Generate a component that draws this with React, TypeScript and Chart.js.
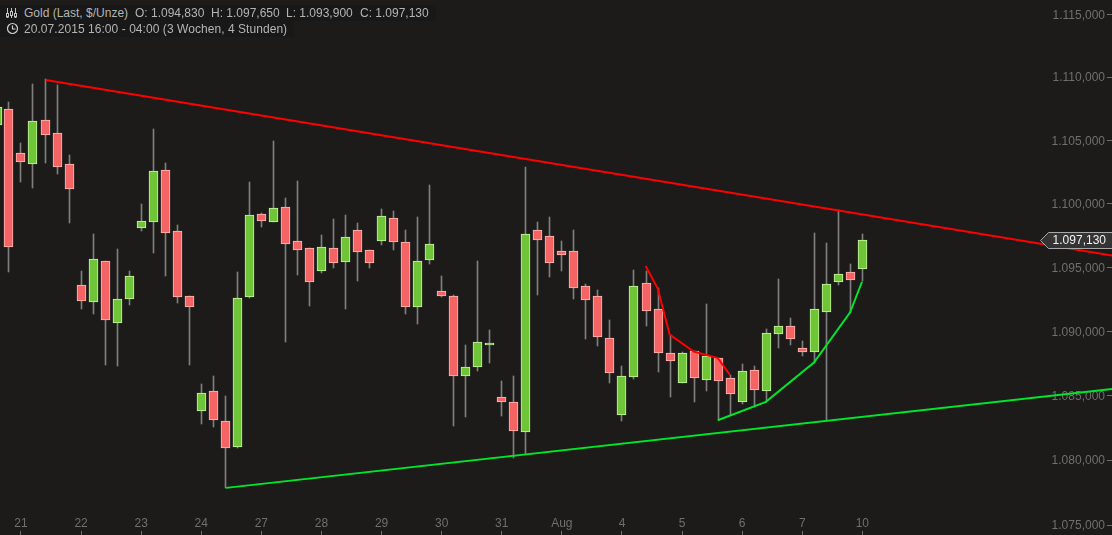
import React, { useEffect, useRef } from "react";
import { Chart, registerables } from "chart.js";

Chart.register(...registerables);

// candle position (0 = first whole candle, -0.95 = the one cut off at the left edge)
const candleIndex = [-0.95,0,1,2,3,4,5,6,7,8,9,10,11,12,13,14,15,16,17,18,19,20,21,22,23,24,25,26,27,28,29,30,31,32,33,34,35,36,37,38,39,40,41,42,43,44,45,46,47,48,49,50,51,52,53,54,55,56,57,58,59,60,61,62,63,64,65,66,67,68,69,70,71];
const opens = [1106.21,1107.47,1103.99,1103.12,1106.60,1105.57,1103.12,1093.62,1092.29,1095.50,1090.65,1092.52,1098.09,1098.56,1102.65,1097.85,1092.76,1083.81,1085.36,1083.03,1081.02,1092.68,1099.19,1098.56,1099.74,1097.06,1096.52,1094.71,1096.52,1095.42,1097.93,1096.36,1097.06,1098.87,1096.99,1091.90,1095.58,1093.15,1092.76,1086.53,1087.22,1088.94,1084.89,1084.51,1082.18,1097.93,1097.46,1096.28,1096.28,1093.54,1092.76,1089.48,1083.50,1086.45,1093.78,1091.74,1088.31,1085.98,1088.47,1086.21,1087.92,1086.37,1084.51,1086.99,1085.36,1089.79,1090.42,1088.70,1088.39,1091.51,1093.85,1094.64,1094.83];
const highs = [1107.63,1108.03,1104.78,1109.45,1109.85,1109.37,1103.83,1094.71,1097.61,1095.50,1096.44,1094.71,1099.97,1105.89,1103.20,1098.32,1092.76,1085.90,1086.53,1084.97,1094.63,1101.70,1099.27,1104.94,1100.44,1101.78,1096.52,1097.54,1098.79,1099.11,1098.48,1096.36,1099.58,1099.42,1097.93,1098.95,1101.47,1094.32,1092.84,1088.94,1095.50,1090.11,1086.14,1086.53,1102.89,1098.56,1098.95,1097.07,1097.93,1093.70,1093.23,1090.88,1087.30,1094.79,1094.71,1093.38,1089.72,1088.39,1088.47,1092.13,1087.92,1086.60,1087.46,1087.30,1090.18,1094.09,1091.04,1089.25,1097.69,1096.91,1099.50,1095.26,1097.65];
const lows = [1106.21,1094.63,1101.70,1101.23,1103.20,1102.33,1098.48,1091.74,1091.35,1087.38,1087.30,1092.06,1097.85,1096.12,1094.32,1092.21,1087.38,1082.80,1082.57,1077.86,1080.95,1092.60,1098.16,1098.56,1089.17,1094.40,1091.98,1094.56,1094.95,1091.74,1093.93,1094.95,1096.75,1096.36,1091.35,1090.57,1095.26,1092.68,1082.65,1083.34,1086.91,1087.54,1083.42,1080.17,1080.48,1092.84,1094.24,1094.71,1092.52,1089.40,1088.86,1085.98,1083.03,1086.29,1090.42,1086.84,1084.89,1085.98,1084.51,1085.36,1083.11,1083.50,1084.35,1084.12,1084.51,1088.70,1088.94,1088.08,1087.54,1083.11,1093.62,1091.43,1093.90];
const closes = [1107.63,1096.59,1103.28,1106.52,1105.41,1102.89,1101.15,1092.37,1095.65,1090.88,1092.52,1094.32,1098.64,1102.57,1097.69,1092.68,1091.90,1085.20,1083.11,1080.95,1092.60,1099.11,1098.64,1099.66,1096.83,1096.36,1093.85,1096.59,1095.34,1097.38,1096.20,1095.34,1099.03,1096.99,1091.90,1095.50,1096.83,1092.76,1086.53,1087.22,1089.17,1089.09,1084.51,1082.26,1097.61,1097.14,1095.34,1095.97,1093.38,1092.45,1089.56,1086.76,1086.53,1093.54,1091.59,1088.31,1087.69,1088.31,1086.37,1088.08,1086.14,1085.13,1086.91,1085.44,1089.87,1090.42,1089.40,1088.39,1091.74,1093.70,1094.48,1094.01,1097.13];

const redTrendX = [3.06, 91.77];
const redTrendY = [1109.77, 1095.92];
const greenTrendX = [18.05, 91.77];
const greenTrendY = [1077.86, 1085.52];
const redCurveX = [52.97, 53.97, 54.97, 56.97, 58.97, 59.97];
const redCurveY = [1095.11, 1093.36, 1089.74, 1088.42, 1087.92, 1086.63];
const greenCurveX = [58.97, 62.97, 66.97, 69.97, 70.97];
const greenCurveY = [1083.09, 1084.51, 1087.56, 1091.46, 1093.87];

const xTickIndex = [1, 6, 11, 16, 21, 26, 31, 36, 41, 46, 51, 56, 61, 66, 71];
const xTickLabels = ["21", "22", "23", "24", "27", "28", "29", "30", "31", "Aug", "4", "5", "6", "7", "10"];
const yTickValues = [1075, 1080, 1085, 1090, 1095, 1100, 1105, 1110, 1115];
const lastPrice = 1097.13;

const FONT = '"Liberation Sans", Arial, sans-serif';
const BG = "#1c1b1a";

const de = (v: number) =>
  v.toLocaleString("de-DE", { minimumFractionDigits: 3, maximumFractionDigits: 3 });

const pts = (xs: number[], ys: number[]) => xs.map((x, i) => ({ x, y: ys[i] }));

const lineSet = (xs: number[], ys: number[], color: string) => ({
  type: "line" as const,
  data: pts(xs, ys),
  borderColor: color,
  borderWidth: 2,
  pointRadius: 0,
  tension: 0,
  fill: false,
  clip: false as any,
  order: 1,
});

const snapBars = {
  id: "snapBars",
  beforeDatasetsDraw(chart: any) {
    chart.getSortedVisibleDatasetMetas().forEach((meta: any) => {
      if (meta.type !== "bar") return;
      meta.data.forEach((el: any) => {
        el.x = Math.floor(el.x) + 0.5;
        el.y = Math.round(el.y);
        el.base = Math.round(el.base);
      });
    });
  },
};

const priceTag = {
  id: "priceTag",
  afterDraw(chart: any) {
    const { ctx } = chart;
    const y = Math.round(chart.scales.y.getPixelForValue(lastPrice)) + 0.5;
    ctx.save();
    ctx.beginPath();
    ctx.moveTo(1040.5, y);
    ctx.lineTo(1048.5, y - 8);
    ctx.lineTo(1113, y - 8);
    ctx.lineTo(1113, y + 8);
    ctx.lineTo(1048.5, y + 8);
    ctx.closePath();
    ctx.fillStyle = "#343434";
    ctx.fill();
    ctx.strokeStyle = "#a8a8a8";
    ctx.lineWidth = 1;
    ctx.stroke();
    ctx.fillStyle = "#f2f2f2";
    ctx.font = `12px ${FONT}`;
    ctx.textAlign = "right";
    ctx.textBaseline = "middle";
    ctx.fillText(de(lastPrice), 1106, y + 0.5);
    ctx.restore();
  },
};

const headerRow: React.CSSProperties = {
  position: "absolute",
  background: "#181818",
  left: 0,
};
const headerText: React.CSSProperties = {
  position: "absolute",
  font: `12px ${FONT}`,
  color: "#b4b4b4",
  whiteSpace: "pre",
  lineHeight: "16px",
};

export default function App() {
  const ref = useRef<HTMLCanvasElement>(null);

  useEffect(() => {
    const up = closes.map((c, i) => c >= opens[i]);
    const chart = new Chart(ref.current as HTMLCanvasElement, {
      type: "bar",
      data: {
        datasets: [
          lineSet(redTrendX, redTrendY, "#ff0000"),
          lineSet(greenTrendX, greenTrendY, "#00e62b"),
          lineSet(redCurveX, redCurveY, "#ff0000"),
          lineSet(greenCurveX, greenCurveY, "#00e62b"),
          {
            type: "bar" as const,
            data: candleIndex.map((x, i) => ({ x, y: [Math.min(opens[i], closes[i]), Math.max(opens[i], closes[i])] })),
            backgroundColor: up.map((u) => (u ? "#6fc437" : "#f56464")),
            borderColor: up.map((u) => (u ? "#c8f7a2" : "#ffb8b4")),
            borderWidth: 1,
            borderSkipped: false,
            barThickness: 9,
            grouped: false,
            order: 2,
          },
          {
            type: "bar" as const,
            data: candleIndex.map((x, i) => ({ x, y: [lows[i], highs[i]] })),
            backgroundColor: "#7e7e7e",
            borderWidth: 0,
            barThickness: 1,
            grouped: false,
            order: 3,
          },
        ] as any,
      },
      options: {
        animation: false,
        responsive: false,
        layout: { padding: 0 },
        plugins: { legend: { display: false }, tooltip: { enabled: false } },
        events: [],
        scales: {
          x: {
            type: "linear",
            position: "bottom",
            offset: false,
            min: -0.7446,
            max: 91.352,
            grid: { offset: false, drawOnChartArea: false, tickLength: 4, tickColor: "#6f6f6f", tickWidth: 1 },
            border: { display: false },
            afterFit(s: any) { s.height = 4; s.paddingLeft = 0; s.paddingRight = 0; s.paddingTop = 0; s.paddingBottom = 0; },
            afterBuildTicks(s: any) { s.ticks = xTickIndex.map((value) => ({ value })); },
            ticks: {
              mirror: true,
              padding: 0,
              autoSkip: false,
              maxRotation: 0,
              color: "#6f6f6f",
              font: { family: FONT, size: 12 },
              callback: (v: any) => xTickLabels[xTickIndex.indexOf(Number(v))] ?? "",
            },
          },
          y: {
            type: "logarithmic",
            position: "right",
            min: 1074.54,
            max: 1116.14,
            grid: { drawOnChartArea: false, tickLength: 5, tickColor: "#6f6f6f", tickWidth: 1 },
            border: { display: false },
            afterFit(s: any) { s.width = 5; s.paddingLeft = 0; s.paddingRight = 0; s.paddingTop = 0; s.paddingBottom = 0; },
            afterBuildTicks(s: any) { s.ticks = yTickValues.map((value) => ({ value })); },
            ticks: {
              mirror: true,
              padding: -2,
              labelOffset: 1,
              autoSkip: false,
              color: "#6f6f6f",
              font: { family: FONT, size: 12 },
              callback: (v: any) => de(Number(v)),
            },
          },
        } as any,
      },
      plugins: [snapBars, priceTag],
    });
    return () => chart.destroy();
  }, []);

  return (
    <div style={{ position: "fixed", left: 0, top: 0, width: 1112, height: 535, background: BG, overflow: "hidden" }}>
      <canvas ref={ref} width={1112} height={535} style={{ display: "block", width: 1112, height: 535 }} />
      <div style={{ ...headerRow, top: 5, height: 16, width: 436 }} />
      <div style={{ ...headerRow, top: 21, height: 16, width: 294 }} />
      <svg width="14" height="14" style={{ position: "absolute", left: 5, top: 6 }} viewBox="0 0 14 14" fill="none" stroke="#c4c4c4">
        <path d="M2.5 2v10M6.5 2v10M10.5 2v10" />
        <rect x="1.5" y="7.5" width="2" height="3.5" fill="#181818" />
        <rect x="5.5" y="5.5" width="2" height="4" fill="#181818" />
        <rect x="9.5" y="7.5" width="2" height="3.5" fill="#181818" />
      </svg>
      <svg width="14" height="14" style={{ position: "absolute", left: 6, top: 22 }} viewBox="0 0 14 14" fill="none" stroke="#d0d0d0" strokeWidth="1.2">
        <circle cx="6.5" cy="6.5" r="5" />
        <path d="M6.5 3.5v3.5h3" />
      </svg>
      <span style={{ ...headerText, left: 24, top: 5 }}>Gold (Last, $/Unze)</span>
      <span style={{ ...headerText, left: 135, top: 5 }}>O: 1.094,830</span>
      <span style={{ ...headerText, left: 211, top: 5 }}>H: 1.097,650</span>
      <span style={{ ...headerText, left: 286, top: 5 }}>L: 1.093,900</span>
      <span style={{ ...headerText, left: 360, top: 5 }}>C: 1.097,130</span>
      <span style={{ ...headerText, left: 24, top: 21, letterSpacing: "0.055px" }}>20.07.2015 16:00 - 04:00 (3 Wochen, 4 Stunden)</span>
    </div>
  );
}
